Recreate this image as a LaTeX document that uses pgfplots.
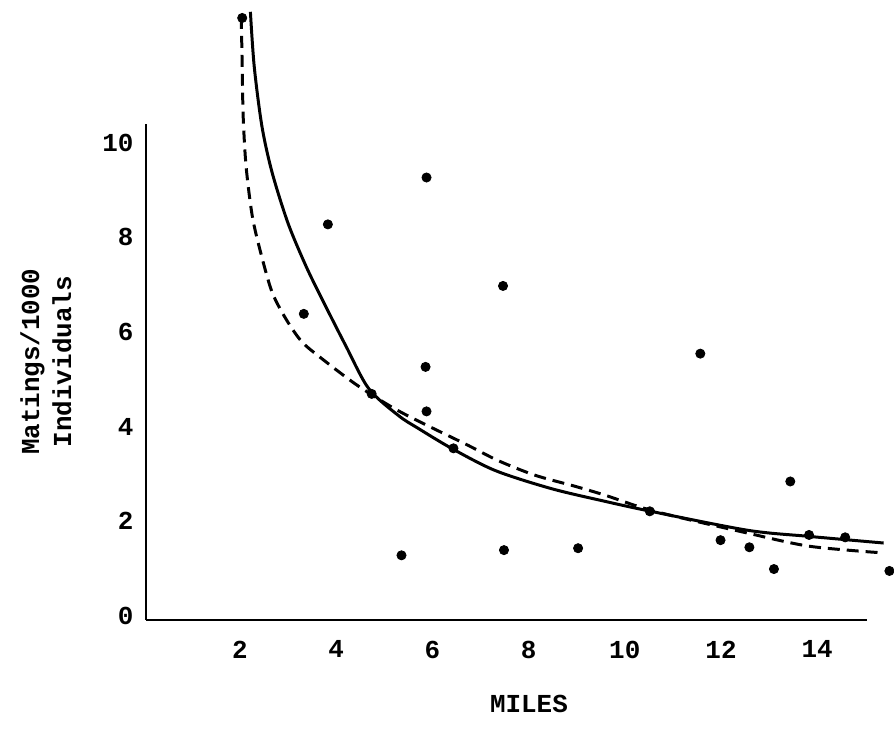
\documentclass[border=0pt]{standalone}
\usepackage{fontspec}
\setmainfont{Liberation Mono}
\usepackage{pgfplots}
\pgfplotsset{compat=1.18}

\begin{document}
\begin{tikzpicture}
\begin{axis}[
    scale only axis,
    width=361.5pt,
    height=249pt,
    xmin=0.06, xmax=15.03,
    ymin=-0.08, ymax=10.4,
    axis x line=bottom,
    axis y line=left,
    axis line style={-, line width=1pt},
    xtick={2,4,...,14},
    ytick={0,2,...,10},
    major tick length=0pt,
    xticklabel style={yshift=-7pt},
    yticklabel style={xshift=-3pt},
    tick label style={font=\bfseries\fontsize{13}{15.6}\selectfont},
    /pgf/number format/assume math mode=true,
    xlabel={MILES},
    xlabel style={at={(axis description cs:0.531,0)}, anchor=center, yshift=-42.5pt,
        font=\bfseries\fontsize{13}{15.6}\selectfont},
    ylabel={\bfseries Matings/1000\\\bfseries Individuals},
    ylabel style={at={(axis description cs:0,0.52)}, anchor=center, yshift=50.5pt,
        align=center, font=\bfseries\fontsize{13}{16}\selectfont},
    clip=false,
]
% observed points
\addplot[only marks, mark=*, mark size=2.3pt, black] coordinates {
    (2.05,12.63) (3.33,6.38) (3.83,8.27) (4.74,4.69) (5.36,1.28)
    (5.86,5.26) (5.88,4.32) (5.88,9.26) (6.44,3.54) (7.47,6.97)
    (7.49,1.39) (9.03,1.43) (10.52,2.21) (11.57,5.54) (11.99,1.60)
    (12.59,1.45) (13.10,0.99) (13.44,2.84) (13.83,1.71) (14.58,1.66)
    (15.50,0.95)
};
% solid fitted curve
\addplot[black, line width=1.5pt, smooth] coordinates {
    (2.22,12.76) (2.30,11.6) (2.46,10.34) (2.67,9.37) (3.00,8.30)
    (3.37,7.40) (3.71,6.69) (4.20,5.71) (4.68,4.80) (5.30,4.23)
    (5.71,3.96) (6.40,3.54) (7.31,3.07) (8.47,2.69) (9.59,2.42)
    (10.54,2.21) (12.55,1.81) (13.83,1.68) (15.38,1.54)
};
% dashed fitted curve
\addplot[black, line width=1.5pt, dash pattern=on 6pt off 3.5pt, smooth] coordinates {
    (2.03,12.65) (2.05,11.6) (2.07,10.55) (2.13,9.5) (2.26,8.44)
    (2.44,7.65) (2.67,6.84) (2.96,6.27) (3.29,5.79) (3.71,5.43)
    (4.33,4.95) (4.82,4.62) (5.30,4.33) (5.86,4.04) (6.75,3.60)
    (7.37,3.28) (8.14,2.97) (8.96,2.74) (9.59,2.55) (10.62,2.21)
    (12.55,1.75) (13.85,1.47) (15.38,1.33)
};
\end{axis}
\path[use as bounding box] (-73.5pt,-63pt) rectangle (373.5pt,311pt);
\end{tikzpicture}
\end{document}
